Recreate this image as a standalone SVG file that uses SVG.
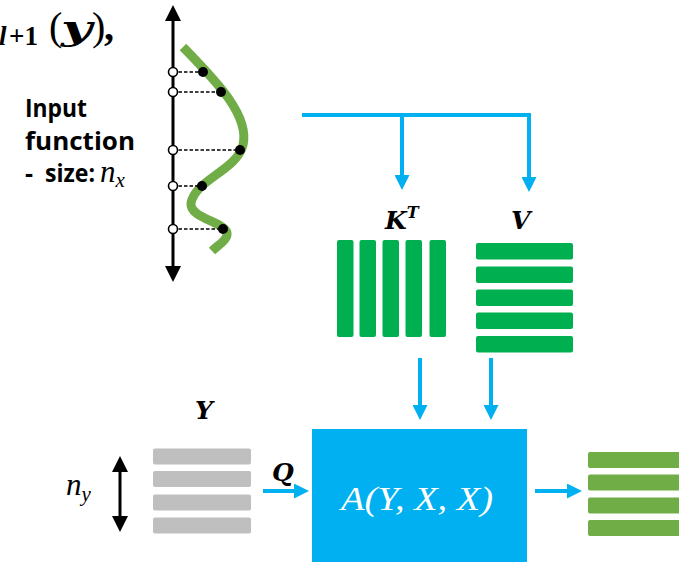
<svg xmlns="http://www.w3.org/2000/svg" width="679" height="563" viewBox="0 0 679 563">
<style>
.lbl{font-family:"Open Sans","Noto Sans",sans-serif;font-weight:bold;font-size:25px;fill:#000}
.m{font-family:"Liberation Serif","DejaVu Serif",serif;font-style:italic}
.mb{font-family:"DejaVu Serif","Liberation Serif",serif;font-style:italic;font-weight:bold;fill:#000}
.blue{fill:none;stroke:#00B0F0;stroke-width:4}
.blk{fill:none;stroke:#000;stroke-width:3}
.dash{stroke:#000;stroke-width:1.5;stroke-dasharray:3.5 2}
.oc{fill:#fff;stroke:#000;stroke-width:1.6}
.kg{fill:#00B050}
.lg{fill:#70AD47}
.gy{fill:#BFBFBF}
</style>
<defs>
<marker id="ab" viewBox="0 0 15 15" refX="0" refY="7.5" markerWidth="15" markerHeight="15" markerUnits="userSpaceOnUse" orient="auto"><path d="M0,0 L15,7.5 L0,15 z" fill="#00B0F0"/></marker>
<marker id="ak" viewBox="0 0 16 16" refX="0" refY="8" markerWidth="16" markerHeight="16" markerUnits="userSpaceOnUse" orient="auto-start-reverse"><path d="M0,0 L16,8 L0,16 z" fill="#000"/></marker>
</defs>

<g id="title">
<text y="45" font-family="Liberation Serif,serif" font-weight="bold" font-size="27"><tspan x="-1" font-style="italic">l</tspan><tspan x="9" textLength="29" lengthAdjust="spacingAndGlyphs">+1</tspan></text>
<text y="40" font-family="Liberation Serif,serif" font-size="40"><tspan x="49">(</tspan><tspan class="mb" x="61" font-size="34" textLength="31" lengthAdjust="spacingAndGlyphs">y</tspan><tspan x="92">)</tspan><tspan x="104" font-weight="bold">,</tspan></text>
</g>

<g id="input-function">
<line class="blk" x1="173" y1="21" x2="173" y2="266" marker-start="url(#ak)" marker-end="url(#ak)"/>
<path d="M183,47 C215,80 250,115 243,145 C237,170 195,180 191,203 C189,218 225,222 227,233 C228,240 218,245 212,251" fill="none" stroke="#70AD47" stroke-width="9"/>
<line class="dash" x1="173" y1="72" x2="203" y2="72"/>
<line class="dash" x1="173" y1="92" x2="221" y2="92"/>
<line class="dash" x1="173" y1="150" x2="240" y2="150"/>
<line class="dash" x1="173" y1="186" x2="202" y2="186"/>
<line class="dash" x1="173" y1="229" x2="223" y2="229"/>
<circle class="oc" cx="173" cy="72" r="4.5"/>
<circle class="oc" cx="173" cy="92" r="4.5"/>
<circle class="oc" cx="173" cy="150" r="4.5"/>
<circle class="oc" cx="173" cy="186" r="4.5"/>
<circle class="oc" cx="173" cy="229" r="4.5"/>
<circle cx="203" cy="72" r="5"/>
<circle cx="221" cy="92" r="5"/>
<circle cx="240" cy="150" r="5"/>
<circle cx="202" cy="186" r="5"/>
<circle cx="223" cy="229" r="5"/>
<text class="lbl" x="25" y="117" textLength="62" lengthAdjust="spacingAndGlyphs">Input</text>
<text class="lbl" x="25" y="150" textLength="110" lengthAdjust="spacingAndGlyphs">function</text>
<text class="lbl" x="25" y="182">-</text>
<text class="lbl" x="45" y="182" textLength="50" lengthAdjust="spacingAndGlyphs">size:</text>
<text class="m" x="100" y="182" font-size="31">n<tspan font-size="21" dy="5">x</tspan></text>
</g>

<g id="kt">
<text class="mb" x="385" y="229" font-size="25">K<tspan font-size="16" dy="-11">T</tspan></text>
<rect class="kg" x="337" y="240" width="16.5" height="97" rx="2"/>
<rect class="kg" x="359.5" y="240" width="16.5" height="97" rx="2"/>
<rect class="kg" x="382.5" y="240" width="16.5" height="97" rx="2"/>
<rect class="kg" x="405.5" y="240" width="16.5" height="97" rx="2"/>
<rect class="kg" x="429.5" y="240" width="16.5" height="97" rx="2"/>
</g>

<g id="v">
<text class="mb" x="511" y="229" font-size="25">V</text>
<rect class="kg" x="476" y="243" width="97" height="16.5" rx="2"/>
<rect class="kg" x="476" y="266.5" width="97" height="16.5" rx="2"/>
<rect class="kg" x="476" y="289.5" width="97" height="16.5" rx="2"/>
<rect class="kg" x="476" y="312.5" width="97" height="16.5" rx="2"/>
<rect class="kg" x="476" y="336" width="97" height="16.5" rx="2"/>
</g>

<g id="y">
<text class="mb" x="195" y="419" font-size="25">Y</text>
<text class="m" x="66" y="495" font-size="31">n<tspan font-size="21" dy="6">y</tspan></text>
<line class="blk" x1="120" y1="472" x2="120" y2="516" marker-start="url(#ak)" marker-end="url(#ak)"/>
<rect class="gy" x="153" y="448.5" width="98" height="16" rx="2"/>
<rect class="gy" x="153" y="471" width="98" height="16" rx="2"/>
<rect class="gy" x="153" y="494.5" width="98" height="16" rx="2"/>
<rect class="gy" x="153" y="517.5" width="98" height="16" rx="2"/>
<text class="mb" x="272" y="481" font-size="25">Q</text>
</g>

<g id="attention">
<rect x="312" y="429" width="215" height="133" fill="#00B0F0"/>
<text class="m" x="341" y="510" font-size="34" fill="#fff" textLength="152" lengthAdjust="spacingAndGlyphs">A(Y, X, X)</text>
</g>

<g id="output">
<rect class="lg" x="588" y="452" width="95" height="16" rx="2"/>
<rect class="lg" x="588" y="474.5" width="95" height="16" rx="2"/>
<rect class="lg" x="588" y="497.5" width="95" height="16" rx="2"/>
<rect class="lg" x="588" y="520" width="95" height="16" rx="2"/>
</g>

<g id="connectors">
<path class="blue" d="M302,115 H529 V177" marker-end="url(#ab)"/>
<path class="blue" d="M402,115 V175" marker-end="url(#ab)"/>
<path class="blue" d="M420,358 V405" marker-end="url(#ab)"/>
<path class="blue" d="M491,358 V405" marker-end="url(#ab)"/>
<path class="blue" d="M263,491 H294" marker-end="url(#ab)"/>
<path class="blue" d="M535,491 H567" marker-end="url(#ab)"/>
</g>
</svg>
